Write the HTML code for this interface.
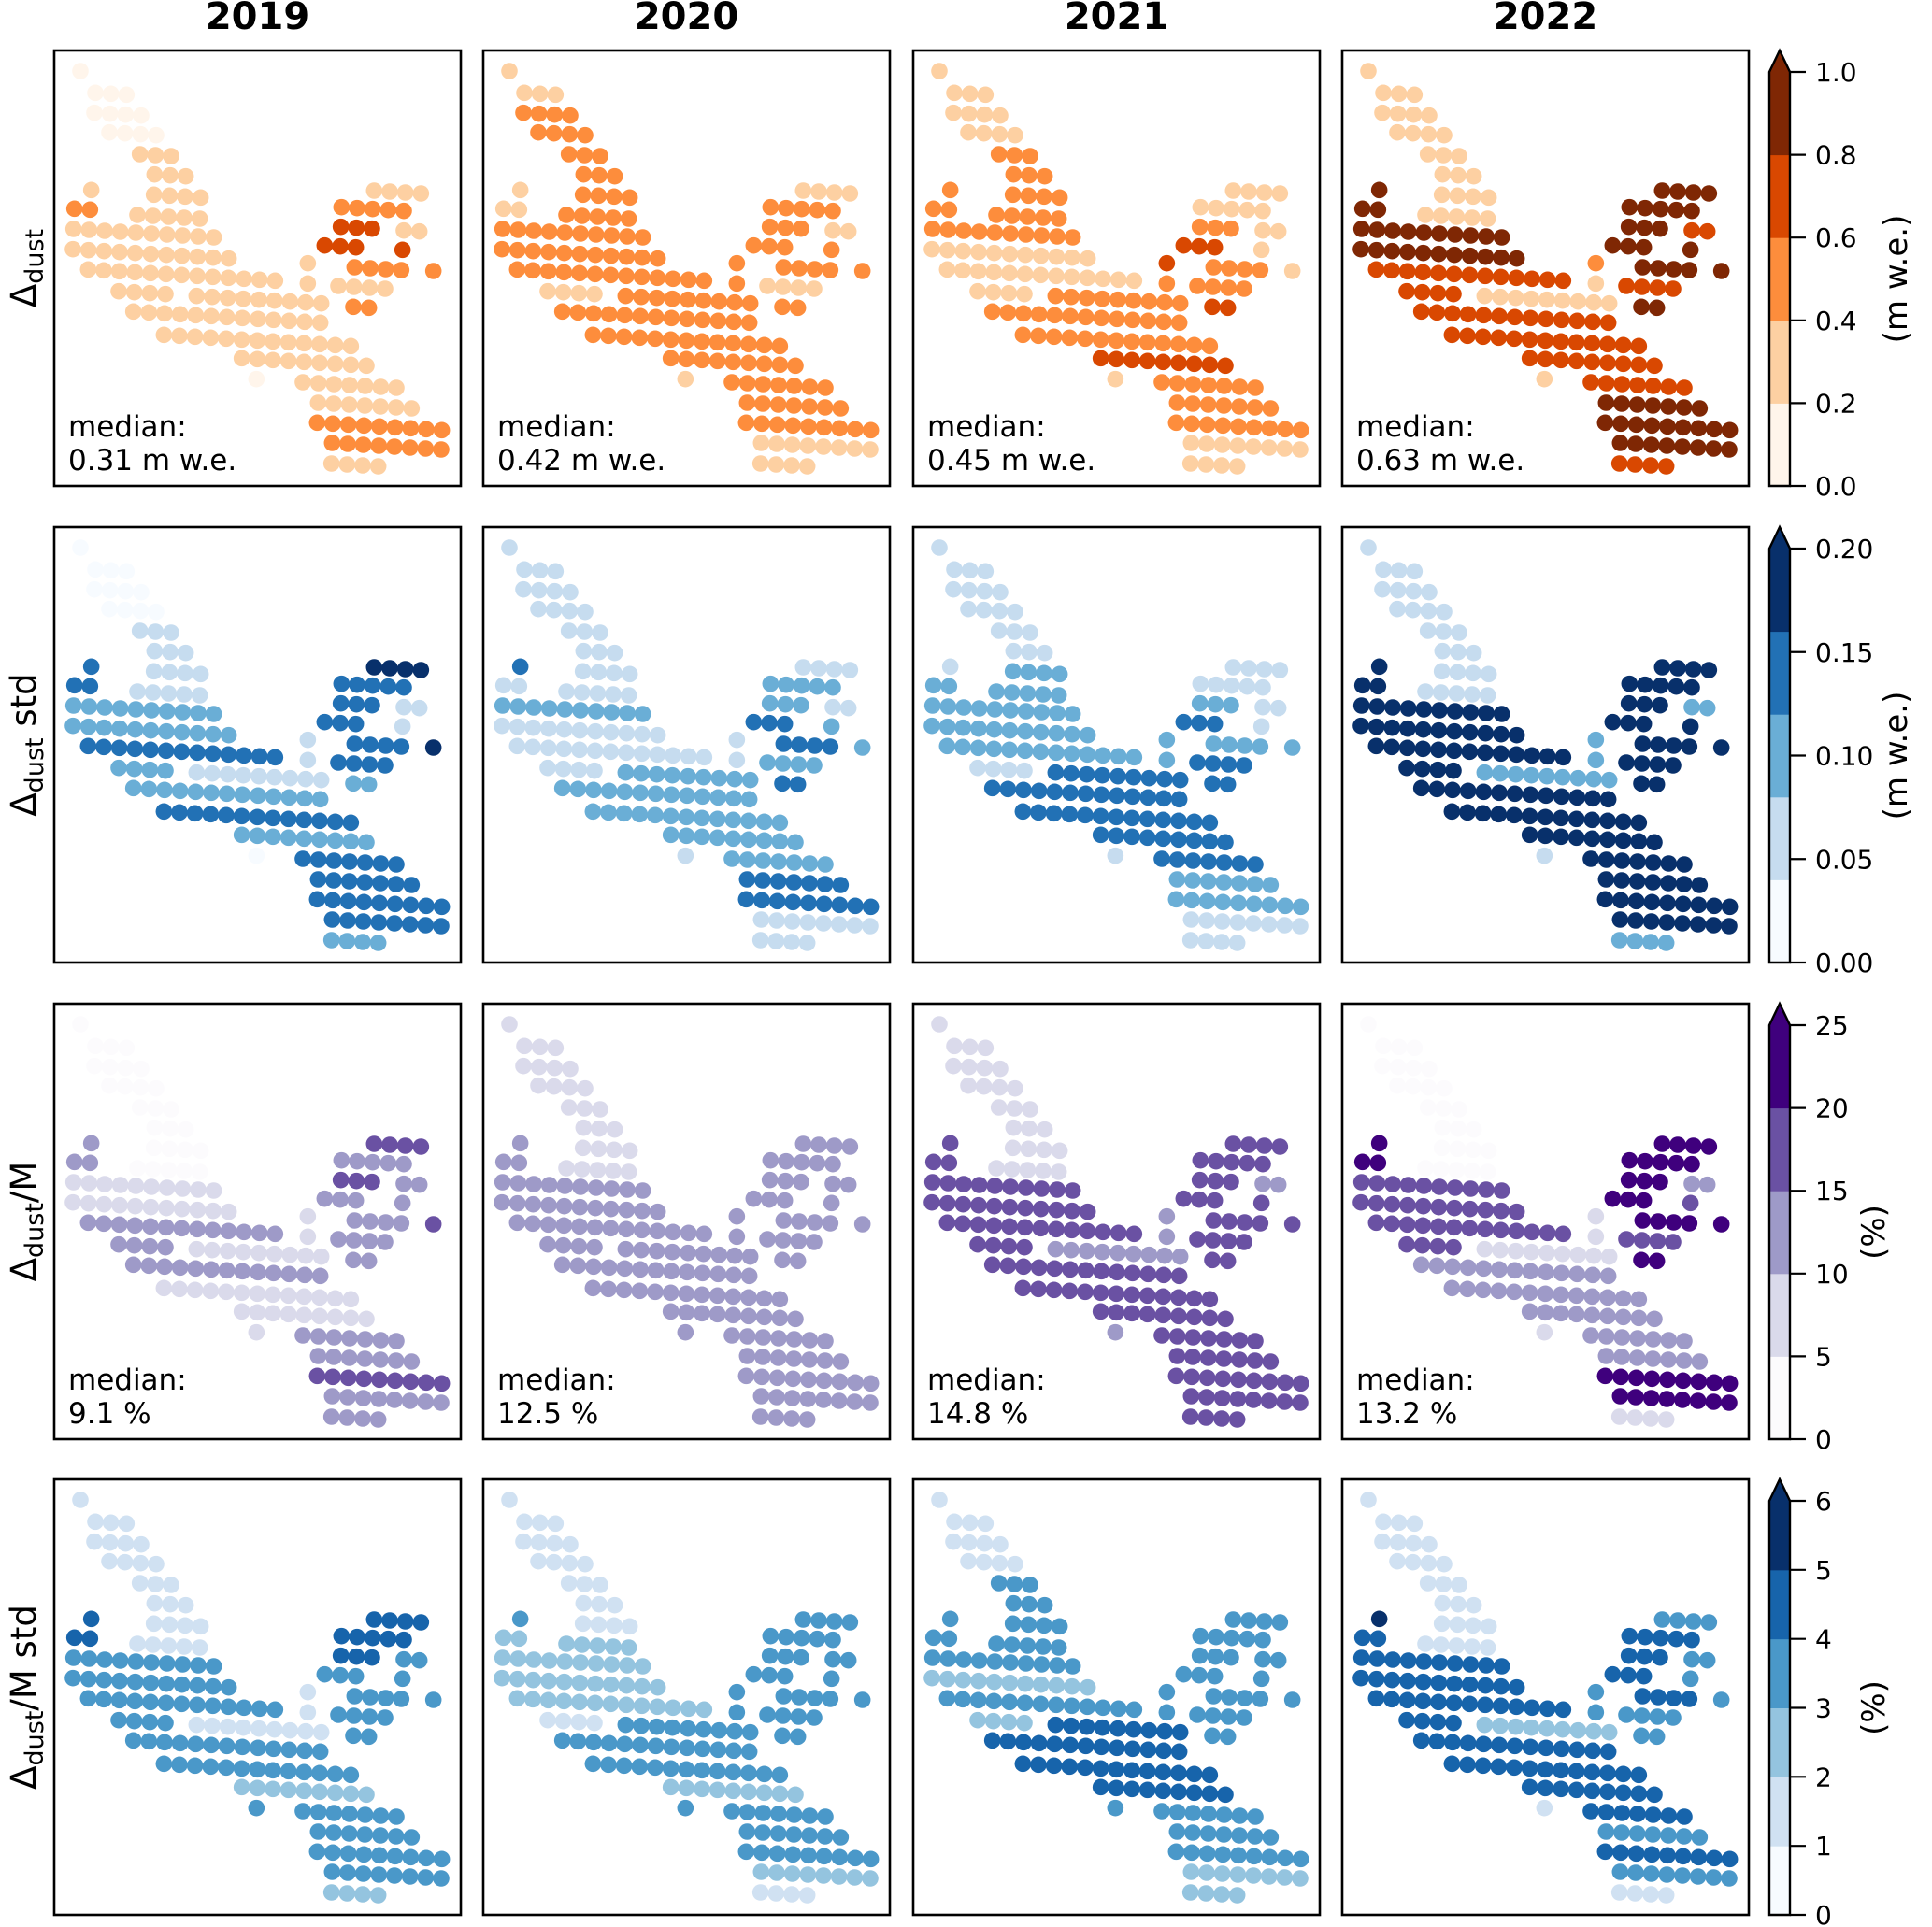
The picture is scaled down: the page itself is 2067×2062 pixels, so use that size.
<!DOCTYPE html>
<html><head><meta charset="utf-8"><style>
html,body{margin:0;padding:0;background:#fff;}
svg{display:block;font-family:"DejaVu Sans","Liberation Sans",sans-serif;}
</style></head><body>
<svg id="fig" width="2067" height="2062" viewBox="0 0 2067 2062" xmlns="http://www.w3.org/2000/svg"></svg>
<script>
// ---- data ----
const years = ['2019','2020','2021','2022'];
const rowLabels = ['dust','dust std','dust/M','dust/M std'];
const medianTexts = [['0.31 m w.e.','0.42 m w.e.','0.45 m w.e.','0.63 m w.e.'],null,['9.1 %','12.5 %','14.8 %','13.2 %'],null];
// point segments (zoomed-reference units): [y, x0, count]
const segY  = [78,148,212,275,345,410,460,475,462,520,540,515,585,578,590,650,638,652,715,695,708,720,785,800,760,768,850,835,925,1000,1067,1077,1143,1207,1272,1338];
const segX0 = [92,140,137,185,283,330,127,328,1035,73,275,930,70,928,1130,68,876,1126,117,822,972,1225,215,465,822,920,262,968,360,610,657,806,855,852,900,898];
const segN  = [1,3,4,4,3,3,1,4,4,2,5,5,10,3,2,11,3,1,13,1,4,1,4,9,1,4,13,2,13,9,1,7,7,9,8,4];
// values per segment, per panel
const dust2019 = [.1,.1,.1,.1,.3,.3,.3,.3,.3,.45,.3,.5,.35,.65,.3,.35,.65,.7,.35,.3,.45,.5,.3,.3,.3,.35,.32,.45,.3,.3,.1,.32,.32,.5,.45,.3];
const dust2020 = [.3,.3,.5,.5,.5,.5,.3,.5,.3,.3,.5,.5,.5,.5,.3,.45,.5,.5,.5,.5,.5,.5,.3,.5,.5,.3,.5,.5,.5,.45,.3,.5,.5,.5,.3,.3];
const dust2021 = [.3,.3,.3,.3,.5,.5,.5,.5,.3,.5,.5,.3,.5,.5,.3,.3,.65,.3,.3,.65,.5,.3,.3,.5,.5,.5,.5,.65,.5,.65,.3,.5,.5,.5,.3,.3];
const dust2022 = [.3,.3,.3,.3,.3,.3,.9,.3,.85,.85,.3,.9,.85,.85,.65,.85,.85,.9,.75,.5,.9,.9,.7,.3,.3,.65,.65,.85,.75,.7,.3,.7,.85,.9,.85,.7];
const std2019 = [.02,.02,.02,.02,.06,.06,.14,.06,.2,.14,.06,.14,.1,.14,.06,.1,.14,.06,.14,.06,.14,.2,.1,.06,.06,.14,.1,.1,.14,.1,.02,.14,.14,.15,.14,.1];
const std2020 = [.06,.06,.06,.06,.06,.06,.14,.06,.06,.06,.06,.1,.1,.1,.06,.06,.14,.1,.06,.06,.14,.1,.06,.1,.06,.1,.1,.14,.1,.1,.06,.1,.14,.14,.06,.06];
const std2021 = [.06,.06,.06,.06,.06,.06,.06,.1,.06,.1,.1,.06,.1,.1,.06,.1,.14,.06,.1,.1,.1,.1,.06,.14,.1,.14,.14,.14,.14,.14,.06,.14,.1,.1,.06,.06];
const std2022 = [.06,.06,.06,.06,.06,.06,.25,.06,.25,.25,.06,.25,.22,.25,.1,.22,.25,.25,.2,.1,.25,.25,.2,.1,.1,.2,.2,.25,.2,.2,.06,.2,.2,.2,.2,.1];
const rel2019 = [2.5,2.5,2.5,2.5,2.5,2.5,12.5,2.5,15,12.5,2.5,12.5,8,15,12.5,9,12.5,12.5,10,7.5,12.5,17.5,12.5,7.5,7.5,12.5,10,12.5,9,7.5,7.5,12.5,12.5,15,12.5,12.5];
const rel2020 = [7.5,7.5,7.5,7.5,7.5,7.5,12.5,7.5,12.5,12.5,7.5,12.5,12.5,12.5,12.5,12.5,12.5,12.5,12.5,12.5,12.5,12.5,12.5,12.5,12.5,12.5,12.5,12.5,12.5,12.5,12.5,12.5,12.5,12.5,12.5,12.5];
const rel2021 = [7.5,7.5,7.5,7.5,7.5,7.5,17.5,7.5,17.5,17.5,7.5,17.5,17.5,17.5,12.5,17.5,17.5,17.5,17.5,12.5,17.5,17.5,17.5,12.5,12.5,17.5,16,17.5,17.5,17.5,12.5,17.5,17.5,17.5,15,17.5];
const rel2022 = [2.5,2.5,2.5,2.5,2.5,2.5,22.5,2.5,20,20,2.5,20,15,20,12.5,17.5,20,17.5,15,7.5,20,20,17.5,7.5,7.5,17.5,12.5,22.5,12.5,12.5,7.5,12.5,12.5,20,20,7.5];
const relstd2019 = [1.5,1.5,1.5,1.5,1.5,1.5,4.5,1.5,4,4,1.5,4,3.5,4,3.5,3.5,3.5,3.5,3.5,1.5,3.5,3.5,3.5,1.5,1.5,3.5,3,3.5,3.5,2.5,3.5,3.5,3.5,3.5,3.5,2.5];
const relstd2020 = [1.5,1.5,1.5,1.5,1.5,1.5,3.5,1.5,3,2.5,2.5,3.5,2.5,3.5,3.5,2.5,3.5,3.5,2.5,3.5,3.5,3.5,1.5,3.5,3.5,3.5,3.5,3.5,3,2.5,3.5,3.5,3.5,3,2.5,1.5];
const relstd2021 = [1.5,1.5,1.5,1.5,3,3,3.5,3,3.5,3,3,3.5,3.5,3.5,3,2.5,3.5,3.5,3,3.5,3.5,3.5,2.5,4,3,3.5,4,3.5,4,4,3,3.5,3.5,3,2.5,2.5];
const relstd2022 = [1.5,1.5,1.5,1.5,1.5,1.5,5.5,1.5,3.5,4,1.5,4,4.5,4.5,3.5,4,4.5,3.5,4,3,4.5,3.5,4.5,2.5,3,3.5,4,3.5,4,4.5,1.5,4.5,3.5,4,3.5,1.5];
const panelValues = [
  [dust2019,dust2020,dust2021,dust2022],
  [std2019,std2020,std2021,std2022],
  [rel2019,rel2020,rel2021,rel2022],
  [relstd2019,relstd2020,relstd2021,relstd2022]];
// colour scales
const bounds0 = [0,0.2,0.4,0.6,0.8,1.0];
const bounds1 = [0,0.04,0.08,0.12,0.16,0.20];
const bounds2 = [0,5,10,15,20,25];
const bounds3 = [0,1,2,3,4,5,6];
const ticks0 = ['0.0','0.2','0.4','0.6','0.8','1.0'];
const ticks1 = ['0.00','0.05','0.10','0.15','0.20'];
const tickVals1 = [0,0.05,0.10,0.15,0.20];
const ticks2 = ['0','5','10','15','20','25'];
const ticks3 = ['0','1','2','3','4','5','6'];
const units = ['(m w.e.)','(m w.e.)','(%)','(%)'];
const colors0 = ['#fff5eb','#fdd0a2','#fd8d3c','#d94801','#7f2704'];
const colors1 = ['#f7fbff','#c6dcef','#6aaed6','#2271b5','#08306b'];
const colors2 = ['#fcfbfd','#dadaeb','#9e9ac8','#6a51a3','#3f007d'];
const colors3 = ['#f7fbff','#d0e1f2','#94c4df','#4a98c9','#1764ab','#08306b'];
const overs = ['#7f2704','#08306b','#3f007d','#08306b'];
</script>
<script>
const NS='http://www.w3.org/2000/svg';
const svg=document.getElementById('fig');
function mk(tag,attrs,parent){const e=document.createElementNS(NS,tag);for(const k in attrs)e.setAttribute(k,attrs[k]);(parent||svg).appendChild(e);return e;}
const colX=[58,517,977,1436], rowY=[54,564,1074,1583], PW=435, PH=466;
const allBounds=[bounds0,bounds1,bounds2,bounds3];
const allColors=[colors0,colors1,colors2,colors3];
const allTicks=[ticks0,ticks1,ticks2,ticks3];
const allTickVals=[bounds0,tickVals1,bounds2,bounds3];
function colorFor(r,v){const b=allBounds[r],c=allColors[r];if(v>=b[b.length-1])return overs[r];for(let i=0;i<c.length;i++){if(v<b[i+1])return c[i];}return overs[r];}
const px=zx=>(zx-8)/3, py=zy=>(zy-12)/3;

years.forEach((y,c)=>{
  const t=mk('text',{x:colX[c]+PW/2,y:31,'text-anchor':'middle','font-size':40,'font-weight':'bold'});
  
  
  t.textContent=y;
});

for(let r=0;r<4;r++){
  const cy=rowY[r]+PH/2;
  const lab=mk('text',{x:0,y:0,'text-anchor':'middle','font-size':37,transform:`translate(38,${cy}) rotate(-90)`});
  
  
  const parts=rowLabels[r].split(' ');
  const base=parts[0].split('/');
  const t1=mk('tspan',{},lab);t1.textContent='Δ';
  const t2=mk('tspan',{'font-size':27,dy:8},lab);t2.textContent='dust';
  const rest=(base[1]?'/'+base[1]:'')+(parts[1]?' '+parts[1]:'');
  if(rest){const t3=mk('tspan',{dy:-8},lab);t3.textContent=rest;}

  for(let c=0;c<4;c++){
    const g=mk('g',{transform:`translate(${colX[c]},${rowY[r]})`});
    
    
    const vals=panelValues[r][c];
    for(let s=0;s<segN.length;s++){
      for(let k=0;k<segN[s];k++){
        const dot=mk('circle',{cx:px(segX0[s]+50*k),cy:py(segY[s]+3*k),r:8.8,fill:colorFor(r,vals[s])},g);
        
        
      }
    }
    const fr=mk('rect',{x:0,y:0,width:PW,height:PH,fill:'none',stroke:'#000','stroke-width':2.6},g);
    
    
    if(medianTexts[r]){
      const m1=mk('text',{x:15,y:413,'font-size':31},g);
      
      
      m1.textContent='median:';
      const m2=mk('text',{x:15,y:449,'font-size':31},g);
      
      
      m2.textContent=medianTexts[r][c];
    }
  }

  const cbx=1893, cbw=22, top=rowY[r]+23, bot=rowY[r]+PH, tip=rowY[r];
  const b=allBounds[r], cols=allColors[r], lo=b[0], hi=b[b.length-1];
  const sy=v=>bot-(v-lo)/(hi-lo)*(bot-top);
  const cb=mk('g',{});
  
  
  cols.forEach((col,i)=>{mk('rect',{x:cbx,y:sy(b[i+1]),width:cbw,height:sy(b[i])-sy(b[i+1])+0.5,fill:col},cb);});
  mk('polygon',{points:`${cbx},${top} ${cbx+cbw/2},${tip} ${cbx+cbw},${top}`,fill:overs[r]},cb);
  mk('path',{d:`M${cbx},${bot} L${cbx},${top} L${cbx+cbw/2},${tip} L${cbx+cbw},${top} L${cbx+cbw},${bot} Z`,fill:'none',stroke:'#000','stroke-width':2.4},cb);
  allTicks[r].forEach((lbl,i)=>{
    const y=sy(allTickVals[r][i]);
    mk('line',{x1:cbx+cbw,x2:cbx+cbw+17,y1:y,y2:y,stroke:'#000','stroke-width':2.2},cb);
    const tt=mk('text',{x:1942,y:y+10,'font-size':28},cb);
    
    
    tt.textContent=lbl;
  });
  const ux = r<2?2040:2016;
  const u=mk('text',{x:0,y:0,'text-anchor':'middle','font-size':34,transform:`translate(${ux},${(top+bot)/2}) rotate(-90)`});
  
  
  u.textContent=units[r];
}
</script>
</body></html>
